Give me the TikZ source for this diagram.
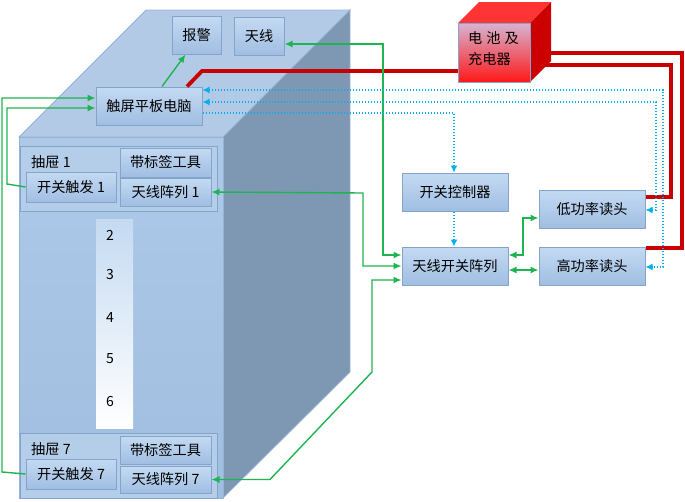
\documentclass[tikz,border=0pt]{standalone}
\usepackage{fontspec}
\setmainfont{Noto Sans CJK SC}
\usetikzlibrary{arrows.meta,calc}
\definecolor{topface}{RGB}{178,202,230}
\definecolor{frontA}{RGB}{174,201,232}
\definecolor{frontB}{RGB}{160,190,224}
\definecolor{sideface}{RGB}{126,152,180}
\definecolor{edgec}{RGB}{150,180,214}
\definecolor{boxA}{RGB}{196,218,242}
\definecolor{boxB}{RGB}{160,190,226}
\definecolor{boxline}{RGB}{132,164,204}
\definecolor{drawerfill}{RGB}{180,206,234}
\definecolor{gline}{RGB}{30,180,80}
\definecolor{rline}{RGB}{200,0,0}
\definecolor{bline}{RGB}{0,176,240}
\definecolor{batA}{RGB}{214,180,210}
\definecolor{batB}{RGB}{255,24,24}
\definecolor{battop}{RGB}{255,52,52}
\definecolor{batside}{RGB}{204,0,0}
\tikzset{
  box/.style={draw=boxline, line width=1pt, top color=boxA, bottom color=boxB, inner sep=0pt, font=\fontsize{14.2}{16}\selectfont},
  drawer/.style={draw=boxline, line width=0.8pt, fill=drawerfill, inner sep=0pt},
  lbl/.style={inner sep=0pt, font=\fontsize{14.2}{16}\selectfont, anchor=west},
  num/.style={inner sep=0pt, font=\fontsize{14}{16}\selectfont},
  gl/.style={draw=gline, line width=1.4pt},
  rl/.style={draw=rline, line width=3.8pt},
  bl/.style={draw=bline, line width=1.3pt, dash pattern=on 1.3pt off 1.7pt},
  gtip/.style={-{Latex[length=8pt,width=7pt]}},
  gboth/.style={{Latex[length=8pt,width=7pt]}-{Latex[length=8pt,width=7pt]}},
  btip/.style={-{Latex[length=7pt,width=7pt]}},
  bboth/.style={{Latex[length=7pt,width=7pt]}-{Latex[length=7pt,width=7pt]}},
}
\begin{document}
\begin{tikzpicture}[x=1pt,y=-1pt]
\useasboundingbox (0,0) rectangle (685,501);
% cabinet
\path[fill=topface, draw=edgec, line width=0.8pt] (19,137) -- (146,10) -- (350,10) -- (223,137) -- cycle;
\path[fill=sideface, draw=edgec, line width=0.8pt] (223,137) -- (350,10) -- (350,372) -- (223,498) -- cycle;
\path[top color=frontA, bottom color=frontB, draw=edgec, line width=0.8pt] (19,137) rectangle (223,498);
% boxes
\node[box, minimum width=49, minimum height=38] (bj) at (196.5,35) {报警};
\node[box, minimum width=50, minimum height=38] (tx) at (259,36) {天线};
\node[box, minimum width=106, minimum height=38] (pc) at (149,106) {触屏平板电脑};
% drawer 1
\node[drawer, minimum width=197, minimum height=65] (d1) at (118.5,178.5) {};
\node[lbl] (d1l) at (31,162) {抽屉 1};
\node[box, minimum width=90, minimum height=30] (sw1) at (71,187) {开关触发 1};
\node[box, minimum width=91, minimum height=29] (tag1) at (165.5,162.5) {带标签工具};
\node[box, minimum width=91, minimum height=28] (ant1) at (165.5,192) {天线阵列 1};
% number strip
\node[inner sep=0pt, minimum width=37, minimum height=209, top color=boxA, bottom color=white] (strip) at (114.5,323.5) {};
\node[num] (n2) at (110,235) {2};
\node[num] (n3) at (110,275) {3};
\node[num] (n4) at (110,318) {4};
\node[num] (n5) at (110,359) {5};
\node[num] (n6) at (110,402) {6};
% drawer 7
\node[drawer, minimum width=197, minimum height=65] (d7) at (118.5,465.5) {};
\node[lbl] (d7l) at (31,449) {抽屉 7};
\node[box, minimum width=90, minimum height=30] (sw7) at (71,474) {开关触发 7};
\node[box, minimum width=91, minimum height=28] (tag7) at (165.5,450) {带标签工具};
\node[box, minimum width=91, minimum height=27] (ant7) at (165.5,479.5) {天线阵列 7};
% right side boxes
\node[box, minimum width=106, minimum height=38] (ctrl) at (455,192) {开关控制器\hspace{6pt}};
\node[box, minimum width=106, minimum height=38] (asw) at (455,266) {天线开关阵列};
\node[box, minimum width=106, minimum height=38] (low) at (592,209) {低功率读头};
\node[box, minimum width=106, minimum height=38] (high) at (592,266) {高功率读头};
\path (494,52.5) coordinate (batc);
% red lines (behind battery)
\draw[rl] ([xshift=38pt]pc.north) -- (202,71) -- (470,71);
\draw[rl] (520,53) -- (682,53) -- (682,248) -- ([yshift=18pt]high.east);
\draw[rl] (520,65) -- (671,65) -- (671,197) -- ([yshift=12pt]low.east);
% battery
\path[fill=battop] (458,23) -- (479,2) -- (551,2) -- (530,23) -- cycle;
\path[fill=batside] (530,23) -- (551,2) -- (551,61) -- (530,82) -- cycle;
\node[draw=boxline, line width=1pt, top color=batA, bottom color=batB, minimum width=72, minimum height=59, inner sep=0pt] (bat) at (batc) {};
\node[lbl] (batt1) at (468,38) {电\hspace{4pt}池\hspace{4pt}及};
\node[lbl] (batt2) at (468,59) {充电器};
% green lines
\draw[gl, gtip] ([xshift=13pt]pc.north) -- ([xshift=-11pt]bj.south);
\draw[gl, gboth] ([yshift=-8pt]tx.east) -- (383,44) -- (383,255) -- ([yshift=11pt]asw.west);
\draw[gl, gboth] (ant1.east) -- (363,193) -- (363,266) -- (asw.west);
\draw[gl, gboth] (ant7.east) -- (270,479.5) -- (372,372) -- (372,280) -- ([yshift=-14pt]asw.west);
\draw[gl, gtip] (sw1.west) -- (7,184) -- (7,108) -- ([yshift=-2pt]pc.west);
\draw[gl, gtip] (sw7.west) -- (2,472) -- (2,98) -- ([yshift=8pt]pc.west);
\draw[gl, gboth] ([yshift=11pt]asw.east) -- (523,255) -- (523,218) -- ([yshift=-9pt]low.west);
\draw[gl, gboth] ([yshift=-4pt]asw.east) -- ([yshift=-4pt]high.west);
% blue dotted lines
\draw[bl, bboth] ([yshift=16pt]pc.east) -- (663,90) -- (663,267) -- ([yshift=-1pt]high.east);
\draw[bl, bboth] ([yshift=4pt]pc.east) -- (656,102) -- (656,210) -- ([yshift=-1pt]low.east);
\draw[bl, btip] ([yshift=-7pt]pc.east) -- (454,113) -- ([xshift=-1pt]ctrl.north);
\draw[bl, btip] ([xshift=-1pt]ctrl.south) -- ([xshift=-1pt]asw.north);
\end{tikzpicture}
\end{document}
